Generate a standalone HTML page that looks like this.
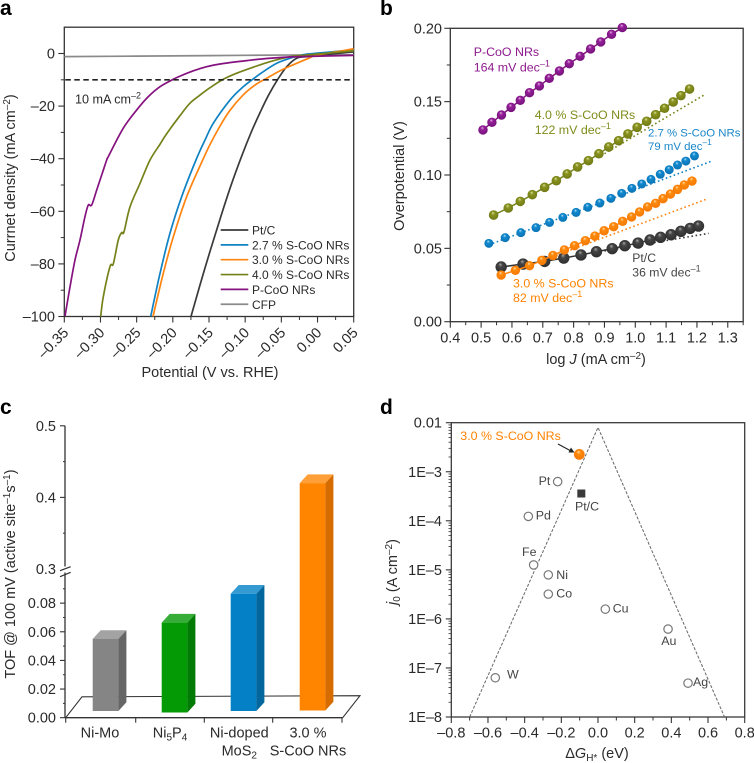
<!DOCTYPE html>
<html lang="en">
<head>
<meta charset="utf-8">
<title>HER catalyst performance panels</title>
<style>
html,body{margin:0;padding:0;background:#fff;}
svg{display:block;font-family:"Liberation Sans",sans-serif;font-size:14.5px;fill:#2a2a2a;}
.letter{font-size:21px;font-weight:bold;fill:#000;}
</style>
</head>
<body>
<svg id="fig" width="754" height="763" viewBox="0 0 754 763" xmlns="http://www.w3.org/2000/svg">
<defs id="defs"></defs>
<text class="letter" x="0" y="15">a</text>
<text class="letter" x="380" y="15">b</text>
<text class="letter" x="0" y="414">c</text>
<text class="letter" x="380" y="414">d</text>

<!-- panel a text -->
<text x="15" y="178" text-anchor="middle" transform="rotate(-90 15 178)">Currnet density (mA cm<tspan dy="-5" font-size="10">–2</tspan><tspan dy="5">)</tspan></text>
<text x="210" y="377" text-anchor="middle">Potential (V vs. RHE)</text>
<text x="75" y="103.5" font-size="12.6">10 mA cm<tspan dy="-5" font-size="9">–2</tspan></text>

<!-- panel b text -->
<text x="404" y="176" text-anchor="middle" transform="rotate(-90 404 176)">Overpotential (V)</text>
<text x="596" y="364" text-anchor="middle">log <tspan font-style="italic">J</tspan> (mA cm<tspan dy="-5" font-size="10">–2</tspan><tspan dy="5">)</tspan></text>
<g font-size="12.4">
<text x="473.7" y="56" fill="#8e1a8e">P-CoO NRs</text>
<text x="473.7" y="71.3" fill="#8e1a8e">164 mV dec<tspan dy="-5" font-size="9">–1</tspan></text>
<text x="534.7" y="119" fill="#7f8c1a">4.0 % S-CoO NRs</text>
<text x="534.7" y="134" fill="#7f8c1a">122 mV dec<tspan dy="-5" font-size="9">–1</tspan></text>
<text x="648" y="136.7" font-size="11.4" fill="#1a86c8">2.7 % S-CoO NRs</text>
<text x="648" y="150" font-size="11.4" fill="#1a86c8">79 mV dec<tspan dy="-5" font-size="8.5">–1</tspan></text>
<text x="513" y="287.3" fill="#ff8200">3.0 % S-CoO NRs</text>
<text x="513" y="302" fill="#ff8200">82 mV dec<tspan dy="-5" font-size="9">–1</tspan></text>
<text x="632.3" y="262" font-size="12.2" fill="#444">Pt/C</text>
<text x="632.3" y="276.7" font-size="12.2" fill="#444">36 mV dec<tspan dy="-5" font-size="9">–1</tspan></text>
</g>

<!-- panel c text -->
<text x="15" y="574" text-anchor="middle" transform="rotate(-90 15 574)">TOF @ 100 mV (active site<tspan dy="-5" font-size="10">–1</tspan><tspan dy="5">s</tspan><tspan dy="-5" font-size="10">–1</tspan><tspan dy="5">)</tspan></text>
<text x="100" y="737.7" text-anchor="middle">Ni-Mo</text>
<text x="170" y="737.7" text-anchor="middle">Ni<tspan dy="3" font-size="10">5</tspan><tspan dy="-3">P</tspan><tspan dy="3" font-size="10">4</tspan></text>
<text x="239.3" y="737.7" text-anchor="middle">Ni-doped</text>
<text x="239.3" y="755.7" text-anchor="middle">MoS<tspan dy="3" font-size="10">2</tspan></text>
<text x="308" y="737.7" text-anchor="middle">3.0 %</text>
<text x="308" y="755.7" text-anchor="middle">S-CoO NRs</text>

<!-- panel d text -->
<text x="397" y="572" text-anchor="middle" transform="rotate(-90 397 572)"><tspan font-style="italic">j</tspan><tspan dy="3" font-size="10">0</tspan><tspan dy="-3"> (A cm</tspan><tspan dy="-5" font-size="10">–2</tspan><tspan dy="5">)</tspan></text>
<text x="597" y="758" text-anchor="middle">Δ<tspan font-style="italic">G</tspan><tspan dy="3" font-size="10">H*</tspan><tspan dy="-3"> (eV)</tspan></text>
<text x="460.3" y="440" font-size="12.4" fill="#ff8200">3.0 % S-CoO NRs</text>
<g id="d-labels" font-size="12.4" fill="#444">
<text x="550.3" y="485" text-anchor="end">Pt</text>
<text x="587" y="510.7" text-anchor="middle">Pt/C</text>
<text x="535.7" y="519.3">Pd</text>
<text x="522" y="556">Fe</text>
<text x="556.3" y="579">Ni</text>
<text x="556.3" y="597.7">Co</text>
<text x="612.7" y="612.7">Cu</text>
<text x="661.3" y="645">Au</text>
<text x="693" y="686">Ag</text>
<text x="507" y="678.3">W</text>
</g>
<g id="plots"></g>
</svg>

<script>
// ---------- Panel a data (potential V, current density mA/cm2) ----------
const aPtV = [-0.1749,-0.1555,-0.1348,-0.12,-0.1048,-0.091,-0.0795,-0.068,-0.0542,-0.0426,-0.0288,-0.015,0.0,0.05];
const aPtJ = [-100,-81.5,-63,-50.5,-39,-29.5,-22.5,-16,-9.5,-5,-1.8,-1.2,-0.7,0.6];
const a27V = [-0.2306,-0.2177,-0.204,-0.1877,-0.168,-0.1555,-0.144,-0.121,-0.105,-0.091,-0.075,-0.0564,-0.038,-0.0243,-0.013,0.05];
const a27J = [-100,-83.6,-68.4,-54.4,-40.5,-32.9,-26.5,-17.7,-13.2,-10.1,-6.9,-3.7,-1.8,-0.9,-0.2,1.4];
const a30V = [-0.2274,-0.2132,-0.1993,-0.1808,-0.1587,-0.1486,-0.1348,-0.121,-0.1026,-0.0864,-0.0703,-0.052,-0.038,-0.0243,-0.0104,0.0,0.05];
const a30J = [-100,-83.6,-69.7,-54.4,-40.5,-34.6,-27.6,-21.6,-15.7,-12,-9.4,-6.6,-4.8,-3.2,-1.6,-0.6,1.8];
const a40V = [-0.2997,-0.2961,-0.2868,-0.2823,-0.2754,-0.2707,-0.2675,-0.2592,-0.2454,-0.2315,-0.2177,-0.2085,-0.19,-0.1763,-0.1624,-0.1486,-0.1302,-0.1117,-0.0888,-0.0657,-0.038,-0.0243,0.0,0.05];
const a40J = [-100,-92.5,-81,-80,-70.9,-68.1,-67.8,-58.3,-49.4,-40.5,-34.5,-30.5,-23.6,-18.9,-15.8,-13,-9.8,-7.5,-5.2,-3.1,-1.2,-0.8,-0.2,1];
const aPV = [-0.349,-0.3421,-0.3352,-0.3283,-0.3214,-0.3168,-0.3121,-0.3052,-0.2983,-0.2914,-0.2892,-0.2685,-0.25,-0.2339,-0.2177,-0.1993,-0.19,-0.1717,-0.1532,-0.1302,-0.0979,-0.0657,-0.0243,0.05];
const aPJ = [-99.8,-88.7,-78.5,-70.9,-62,-57.6,-57.6,-51.9,-46.2,-40.5,-39.2,-28.4,-21.5,-16.4,-12.6,-9.8,-8.6,-6.6,-5,-3.8,-2.7,-1.8,-1.2,-0.7];
const aCfpV = [-0.35,-0.25,-0.15,-0.05,0.05];
const aCfpJ = [-1.2,-1.0,-0.8,-0.6,-0.5];
const aThresholdJ = -10;
const aLegendNames = ["Pt/C","2.7 % S-CoO NRs","3.0 % S-CoO NRs","4.0 % S-CoO NRs","P-CoO NRs","CFP"];
const aXTicks = ["–0.35","–0.30","–0.25","–0.20","–0.15","–0.10","–0.05","0.00","0.05"];
const aYTicks = ["0","–20","–40","–60","–80","–100"];

// ---------- Panel b data (log J, overpotential V) ----------
const bPX = [0.506,0.535,0.566,0.597,0.627,0.657,0.689,0.721,0.754,0.786,0.821,0.855,0.888,0.923,0.958];
const bPY = [0.1307,0.1359,0.1409,0.1461,0.1509,0.1561,0.1607,0.1659,0.1709,0.1759,0.1809,0.1859,0.1907,0.1959,0.2005];
const b40X = [0.5405,0.588,0.627,0.666,0.706,0.744,0.779,0.813,0.848,0.882,0.914,0.946,0.976,1.006,1.037,1.066,1.095,1.123,1.148,1.176];
const b40Y = [0.0727,0.0775,0.082,0.0866,0.0916,0.0961,0.1007,0.1055,0.1098,0.1145,0.1191,0.1234,0.128,0.1325,0.1366,0.1411,0.1455,0.1498,0.1541,0.1586];
const b27X = [0.525,0.578,0.629,0.678,0.722,0.765,0.808,0.846,0.885,0.921,0.956,0.989,1.021,1.051,1.081,1.110,1.137,1.164,1.192];
const b27Y = [0.0534,0.0573,0.0607,0.0641,0.0677,0.0711,0.0745,0.078,0.0809,0.0841,0.0875,0.0909,0.0939,0.097,0.1005,0.1036,0.1068,0.1095,0.113];
const b30X = [0.565,0.611,0.657,0.697,0.733,0.770,0.803,0.838,0.869,0.899,0.930,0.959,0.988,1.014,1.040,1.066,1.090,1.114,1.137,1.159,1.184];
const b30Y = [0.0318,0.035,0.0382,0.0418,0.0452,0.0489,0.0518,0.0552,0.0584,0.062,0.0648,0.0684,0.0714,0.0748,0.0782,0.0807,0.0839,0.087,0.0902,0.0932,0.0959];
const bPtX = [0.565,0.636,0.706,0.768,0.824,0.874,0.925,0.966,1.009,1.048,1.082,1.116,1.148,1.178,1.205];
const bPtY = [0.0373,0.0393,0.0411,0.0434,0.0455,0.0477,0.0498,0.0518,0.0536,0.0557,0.0575,0.0593,0.0616,0.0636,0.0652];
const bFit40X = [0.9,1.227];
const bFit40Y = [0.1145,0.155];
const bFit27X = [0.525,1.252];
const bFit27Y = [0.0524,0.1098];
const bFit30X = [0.7,1.229];
const bFit30Y = [0.0418,0.0834];
const bFitPtX = [0.9,1.238];
const bFitPtY = [0.0482,0.0602];
const bXTicks = ["0.4","0.5","0.6","0.7","0.8","0.9","1.0","1.1","1.2","1.3"];
const bYTicks = ["0.00","0.05","0.10","0.15","0.20"];

// ---------- Panel c data ----------
const cCategories = ["Ni-Mo","Ni5P4","Ni-doped MoS2","3.0 % S-CoO NRs"];
const cValues = [0.055,0.0664,0.0866,0.42];
const cLowTicks = ["0.00","0.02","0.04","0.06","0.08"];
const cHighTicks = ["0.3","0.4","0.5"];

// ---------- Panel d data ----------
const dNames = ["Pt","Pd","Fe","Ni","Co","Cu","Au","Ag","W"];
const dG = [-0.22,-0.38,-0.351,-0.271,-0.271,0.04,0.382,0.491,-0.56];
const dJ = [6.3e-4,1.23e-4,1.26e-5,7.9e-6,3.2e-6,1.58e-6,6.2e-7,4.9e-8,6.3e-8];
const dPtCG = [-0.091];
const dPtCJ = [3.6e-4];
const dS30G = [-0.102];
const dS30J = [2.26e-3];
const dVolcanoG = [-0.7,0,0.69];
const dVolcanoJ = [1e-8,8e-3,1e-8];
const dXTicks = ["–0.8","–0.6","–0.4","–0.2","0.0","0.2","0.4","0.6","0.8"];
const dYTicks = ["1E–8","1E–7","1E–6","1E–5","1E–4","1E–3","0.01"];

// ---------- helpers ----------
const NS = "http://www.w3.org/2000/svg";
const root = document.getElementById("plots");
const defs = document.getElementById("defs");
function mk(tag, attrs, parent) {
  const el = document.createElementNS(NS, tag);
  for (const k in attrs) el.setAttribute(k, attrs[k]);
  (parent || root).appendChild(el);
  return el;
}
const INK = "#333";
function num(s){ return parseFloat(String(s).replace("–","-")); }
function smoothPath(pts){
  let d = "M" + pts[0][0].toFixed(2) + " " + pts[0][1].toFixed(2);
  for (let i = 0; i < pts.length - 1; i++) {
    const p0 = pts[Math.max(0,i-1)], p1 = pts[i], p2 = pts[i+1], p3 = pts[Math.min(pts.length-1,i+2)];
    const c1x = p1[0]+(p2[0]-p0[0])/6, c1y = p1[1]+(p2[1]-p0[1])/6;
    const c2x = p2[0]-(p3[0]-p1[0])/6, c2y = p2[1]-(p3[1]-p1[1])/6;
    d += "C"+c1x.toFixed(2)+" "+c1y.toFixed(2)+" "+c2x.toFixed(2)+" "+c2y.toFixed(2)+" "+p2[0].toFixed(2)+" "+p2[1].toFixed(2);
  }
  return d;
}
function line(x1,y1,x2,y2,w,parent,color){
  return mk("line",{x1:x1,y1:y1,x2:x2,y2:y2,stroke:color||INK,"stroke-width":w},parent);
}
function ballGradient(id,light,mid,dark){
  const g = mk("radialGradient",{id:id,cx:"0.5",cy:"0.5",r:"0.6",fx:"0.42",fy:"0.25"},defs);
  mk("stop",{offset:"0",  "stop-color":light},g);
  mk("stop",{offset:"0.3","stop-color":mid},g);
  mk("stop",{offset:"1",  "stop-color":dark},g);
}
ballGradient("ball-purple","#e9b8e6","#96209a","#6f0f74");
ballGradient("ball-olive","#dfe3a0","#8a9420","#6b7412");
ballGradient("ball-blue","#b6e1f8","#1189cf","#0a6fae");
ballGradient("ball-orange","#ffe0b0","#ff8a0c","#f27500");
ballGradient("ball-black","#aaaaaa","#454545","#2a2a2a");

// ---------- Panel a ----------
const ax = v => 64.3 + (v + 0.35) / 0.4 * 289.4;
const ay = j => 53.5 - j * 2.63;
const gA = mk("g",{});


const frameA = mk("rect",{x:ax(-0.35),y:ay(10),width:ax(0.05)-ax(-0.35),height:ay(-100)-ay(10),fill:"none",stroke:INK,"stroke-width":1.3},gA);


aXTicks.forEach(t=>{
  const v = num(t), x = ax(v);
  const tk = line(x,ay(-100),x,ay(-100)+6,1.1,gA);
  
  
  const lx = x+5, ly = ay(-100)+17;
  const lb = mk("text",{x:lx,y:ly,"text-anchor":"end",transform:"rotate(-45 "+lx+" "+ly+")"},gA);
  lb.textContent = t;
  
  
  if (v < 0.05) {
    const m = ax(v+0.025);
    const mt = line(m,ay(-100),m,ay(-100)+3.5,1,gA);
    
    
  }
});
aYTicks.forEach(t=>{
  const v = num(t), y = ay(v);
  const tk = line(ax(-0.35)-6,y,ax(-0.35),y,1.1,gA);
  
  
  const lb = mk("text",{x:55,y:y+5,"text-anchor":"end"},gA);
  lb.textContent = t;
  
  
  if (v > -100) {
    const m = ay(v-10);
    const mt = line(ax(-0.35)-3.5,m,ax(-0.35),m,1,gA);
    
    
  }
});
const aSeries = [
  [aCfpV,aCfpJ,"#8a8a8a"],
  [aPtV,aPtJ,"#3a3a3a"],
  [a27V,a27J,"#0f82c4"],
  [a30V,a30J,"#ff8410"],
  [a40V,a40J,"#75821a"],
  [aPV,aPJ,"#85127f"]
];
aSeries.forEach(s=>{
  const pts = s[0].map((v,i)=>[ax(v),ay(s[1][i])]);
  const p = mk("path",{d:smoothPath(pts),fill:"none",stroke:s[2],"stroke-width":1.7},gA);
  
  
});
const thr = mk("line",{x1:ax(-0.35)+1,y1:ay(aThresholdJ),x2:ax(0.05),y2:ay(aThresholdJ),stroke:"#222","stroke-width":1.6,"stroke-dasharray":"5.5 3.5"},gA);


const aLegendColors = ["#3a3a3a","#0f82c4","#ff8410","#75821a","#85127f","#8a8a8a"];
aLegendNames.forEach((n,i)=>{
  const y = 230 + i * 14.85;
  const l = line(220.7,y,248.3,y,1.7,gA,aLegendColors[i]);
  
  
  const t = mk("text",{x:252,y:y+4.5,"font-size":"12"},gA);
  t.textContent = n;
  
  
});

// ---------- Panel b ----------
const bx = v => 450.3 + (v - 0.4) / 0.1 * 30.83;
const by = v => 321.7 - v / 0.2 * 293.4;
const gB = mk("g",{});


const frameB = mk("rect",{x:bx(0.4),y:by(0.2),width:bx(1.35)-bx(0.4),height:by(0)-by(0.2),fill:"none",stroke:INK,"stroke-width":1.3},gB);


bXTicks.forEach(t=>{
  const v = num(t), x = bx(v);
  const tk = line(x,by(0),x,by(0)+6,1.1,gB);
  
  
  const lb = mk("text",{x:x,y:342.7,"text-anchor":"middle"},gB);
  lb.textContent = t;
  
  
  const m = bx(v+0.05);
  const mt = line(m,by(0),m,by(0)+3.5,1,gB);
  
  
});
bYTicks.forEach(t=>{
  const v = num(t), y = by(v);
  const tk = line(bx(0.4)-6,y,bx(0.4),y,1.1,gB);
  
  
  const lb = mk("text",{x:442,y:y+5,"text-anchor":"end"},gB);
  lb.textContent = t;
  
  
  if (v < 0.2) {
    const m = by(v+0.025);
    const mt = line(bx(0.4)-3.5,m,bx(0.4),m,1,gB);
    
    
  }
});
const bFits = [
  [bFitPtX,bFitPtY,"#3a3a3a"],
  [bFit30X,bFit30Y,"#ff8410"],
  [bFit27X,bFit27Y,"#0f82c4"],
  [bFit40X,bFit40Y,"#75821a"]
];
bFits.forEach(f=>{
  const l = mk("line",{x1:bx(f[0][0]),y1:by(f[1][0]),x2:bx(f[0][1]),y2:by(f[1][1]),stroke:f[2],"stroke-width":1.6,"stroke-dasharray":"1.6 2.6"},gB);
  
  
});
const bSeries = [
  [bPtX,bPtY,"#333333","ball-black",5.7,true],
  [b30X,b30Y,"#ff8410","ball-orange",4.7,true],
  [b27X,b27Y,"#0f82c4","ball-blue",4.5,false],
  [b40X,b40Y,"#75821a","ball-olive",4.8,true],
  [bPX,bPY,"#85127f","ball-purple",4.7,true]
];
bSeries.forEach(s=>{
  if (s[5]) {
    const pts = s[0].map((v,i)=>bx(v).toFixed(2)+","+by(s[1][i]).toFixed(2)).join(" ");
    const pl = mk("polyline",{points:pts,fill:"none",stroke:s[2],"stroke-width":1.5},gB);
    
    
  }
  s[0].forEach((v,i)=>{
    const c = mk("circle",{cx:bx(v),cy:by(s[1][i]),r:s[4],fill:"url(#"+s[3]+")"},gB);
    
    
  });
});

// ---------- Panel c ----------
const cy = v => v <= 0.1 ? 717.7 - v * 1432 : 569 - (v - 0.3) * 716;
const cBarX = i => 92.7 + i * 69;
const gC = mk("g",{});


const floorBack = mk("polyline",{points:"65.7,717.7 82,696.8 360,695.7 342.7,717.7",fill:"none",stroke:INK,"stroke-width":1.1},gC);


const axisLow = line(65,cy(0),65,572.5,1.3,gC);


const axisHigh = line(65,cy(0.5),65,566.5,1.3,gC);


const floorFront = line(65,cy(0),342.7,cy(0),1.3,gC);


const brk1 = line(60,570.7,70.7,566.7,1.2,gC);


const brk2 = line(60,576.7,70.7,572.3,1.2,gC);


cLowTicks.forEach(t=>{
  const v = num(t), y = cy(v);
  const tk = line(60,y,65,y,1.1,gC);
  
  
  const lb = mk("text",{x:56,y:y+5,"text-anchor":"end"},gC);
  lb.textContent = t;
  
  
  const m = cy(v+0.01);
  const mt = line(63,m,65,m,1,gC);
  
  
});
cHighTicks.forEach(t=>{
  const v = num(t), y = cy(v);
  if (v > 0.3) {
    const tk = line(60,y,65,y,1.1,gC);
    
    
    const m = cy(v-0.05);
    const mt = line(63,m,65,m,1,gC);
    
    
  }
  const lb = mk("text",{x:56,y:y+5,"text-anchor":"end"},gC);
  lb.textContent = t;
  
  
});
const cCatTickX = [65.7,135.7,204.3,272.7,342];
cCatTickX.forEach(x=>{
  const tk = line(x,cy(0),x,cy(0)+5,1.1,gC);
  
  
});
const cFront = ["#858585","#039a05","#0481c6","#ff8500"];
const cTop = ["#a3a3a3","#35ad36","#349ad2","#ff9f37"];
const cSide = ["#666666","#027b04","#03679e","#d66b00"];
const cBase = [711,712.5,711,710.5];
const cW = 25.7, cDX = 8, cDY = 8.7;
cCategories.forEach((c,i)=>{
  const x0 = cBarX(i), yt = cy(cValues[i]), yb = cBase[i], x1 = x0 + cW;
  const g = mk("g",{},gC);
  
  
  const f = mk("rect",{x:x0,y:yt,width:cW,height:yb-yt,fill:cFront[i]},g);
  
  
  const tp = mk("polygon",{points:x0+","+yt+" "+(x0+cDX)+","+(yt-cDY)+" "+(x1+cDX)+","+(yt-cDY)+" "+x1+","+yt,fill:cTop[i]},g);
  
  
  const sd = mk("polygon",{points:x1+","+yt+" "+(x1+cDX)+","+(yt-cDY)+" "+(x1+cDX)+","+(yb-cDY)+" "+x1+","+yb,fill:cSide[i]},g);
  
  
});

// ---------- Panel d ----------
const dx = v => 451.3 + (v + 0.8) / 1.6 * 293.4;
const dy = v => 717 - (Math.log10(v) + 8) / 6 * 294.3;
const gD = mk("g",{});


const frameD = mk("rect",{x:dx(-0.8),y:dy(0.01),width:dx(0.8)-dx(-0.8),height:dy(1e-8)-dy(0.01),fill:"none",stroke:"#3a3a3a","stroke-width":1.3},gD);


dXTicks.forEach(t=>{
  const v = num(t), x = dx(v);
  const tk = line(x,dy(1e-8),x,dy(1e-8)+6,1.1,gD);
  
  
  const lb = mk("text",{x:x,y:737.3,"text-anchor":"middle"},gD);
  lb.textContent = t;
  
  
  if (v < 0.8) {
    const m = dx(v+0.1);
    const mt = line(m,dy(1e-8),m,dy(1e-8)+3.5,1,gD);
    
    
  }
});
dYTicks.forEach((t,i)=>{
  const v = Math.pow(10,i-8), y = dy(v);
  const tk = line(dx(-0.8)-5.5,y,dx(-0.8),y,1.1,gD);
  
  
  const lb = mk("text",{x:442,y:y+5,"text-anchor":"end"},gD);
  lb.textContent = t;
  
  
  if (i < dYTicks.length - 1) {
    for (let k = 2; k < 10; k++) {
      const m = dy(k * v);
      const mt = line(dx(-0.8)-2.8,m,dx(-0.8),m,0.8,gD);
      
      
    }
  }
});
const volc = mk("polyline",{points:dVolcanoG.map((g,i)=>dx(g).toFixed(2)+","+dy(dVolcanoJ[i]).toFixed(2)).join(" "),fill:"none",stroke:"#666","stroke-width":1,"stroke-dasharray":"3 1.6"},gD);


dNames.forEach((n,i)=>{
  const c = mk("circle",{cx:dx(dG[i]),cy:dy(dJ[i]),r:4.2,fill:"#fff",stroke:"#777","stroke-width":1.2},gD);
  
  
});
const sq = mk("rect",{x:dx(dPtCG[0])-4,y:dy(dPtCJ[0])-4,width:8,height:8,fill:"#3a3a3a"},gD);


const orb = mk("circle",{cx:dx(dS30G[0]),cy:dy(dS30J[0]),r:5.4,fill:"url(#ball-orange)"},gD);


const arr = mk("line",{x1:558,y1:444,x2:571,y2:451,stroke:"#222","stroke-width":1.1},gD);


const arrH = mk("polygon",{points:"574.5,452.5 568.5,452.5 571,447.5",fill:"#222"},gD);


</script>
</body>
</html>
